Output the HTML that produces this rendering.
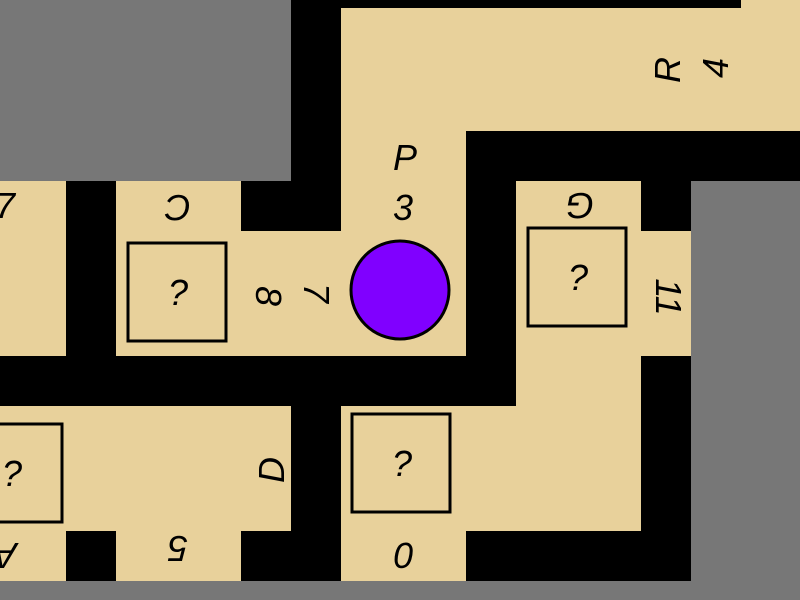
<!DOCTYPE html>
<html><head><style>html,body{margin:0;padding:0;background:#777}svg{display:block}</style></head><body>
<svg width="800" height="600" xmlns="http://www.w3.org/2000/svg">
<rect width="800" height="600" fill="#777"/>
<g fill="#000">
<rect x="291" y="0" width="450" height="8"/>
<rect x="291" y="0" width="50" height="231"/>
<rect x="0" y="181" width="691" height="400"/>
<rect x="466" y="131" width="334" height="50"/>
</g>
<g fill="#e8d19b">
<rect x="341" y="8" width="459" height="123"/>
<rect x="741" y="0" width="59" height="8"/>
<rect x="341" y="131" width="125" height="225"/>
<rect x="241" y="231" width="100" height="125"/>
<rect x="116" y="181" width="125" height="175"/>
<rect x="0" y="181" width="66" height="175"/>
<rect x="516" y="181" width="125" height="350"/>
<rect x="641" y="231" width="50" height="125"/>
<rect x="341" y="406" width="300" height="125"/>
<rect x="0" y="406" width="291" height="125"/>
<rect x="0" y="531" width="66" height="50"/>
<rect x="116" y="531" width="125" height="50"/>
<rect x="341" y="531" width="125" height="50"/>
</g>
<g fill="none" stroke="#000" stroke-width="3">
<rect x="128" y="243" width="98" height="98"/>
<rect x="528" y="228" width="98" height="98"/>
<rect x="352" y="414" width="98" height="98"/>
<rect x="-40" y="424" width="102" height="98"/>
</g>
<circle cx="400" cy="290" r="49" fill="#8000ff" stroke="#000" stroke-width="3"/>
<g font-family="Liberation Sans, sans-serif" font-size="36" font-style="italic" text-anchor="middle" fill="#000">
<text x="178" y="305">?</text>
<text x="578" y="290">?</text>
<text x="402" y="476">?</text>
<text x="12" y="486">?</text>
<text x="405" y="170">P</text>
<text x="403" y="220">3</text>
<text x="403" y="568">0</text>
<text x="5" y="218">7</text>
<text transform="translate(178,207) rotate(180)" y="12">C</text>
<text transform="translate(580,205) rotate(180)" y="12">G</text>
<text transform="translate(178,548) rotate(180)" y="12">5</text>
<text transform="translate(5,555) rotate(180)" y="12">A</text>
<text transform="translate(668,70) rotate(-90)" y="12">R</text>
<text transform="translate(716,68) rotate(-90)" y="12">4</text>
<text transform="translate(268,296) rotate(90)" y="12">8</text>
<text transform="translate(316,293) rotate(90)" y="12">7</text>
<text transform="translate(668,297) rotate(90)" y="12">11</text>
<text transform="translate(272,470) rotate(-90)" y="12">D</text>
</g>
</svg>
</body></html>
